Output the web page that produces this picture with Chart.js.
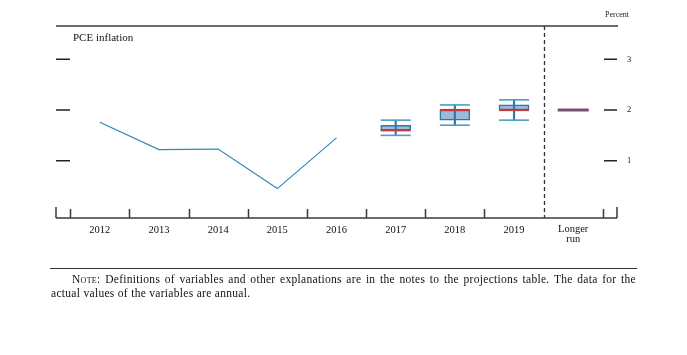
<!DOCTYPE html>
<html>
<head>
<meta charset="utf-8">
<script src="https://cdn.jsdelivr.net/npm/chart.js@4/dist/chart.umd.min.js"></script>
<style>
  html, body { margin: 0; padding: 0; background: #fff; }
  #wrap { position: relative; width: 687px; height: 355px; overflow: hidden; }
  #c { position: absolute; left: 0; top: 0; }
  .note { position: absolute; font-family: 'Liberation Serif', serif; font-size: 11.5px; letter-spacing: 0.3px; color: #111; white-space: nowrap; line-height: 14px; }
  #rule { position: absolute; left: 50px; top: 268px; width: 587px; height: 0; border-top: 1.5px solid #333; }
</style>
</head>
<body>
<div id="wrap">
  <canvas id="c" width="687" height="355"></canvas>
  <div id="rule"></div>
  <div class="note" id="n1" style="left:72px; top:272px; width:564px; text-align:justify; text-align-last:justify; white-space:normal;"><span style="font-variant:small-caps">Note</span>: Definitions of variables and other explanations are in the notes to the projections table. The data for the</div>
  <div class="note" style="left:51px; top:286px;">actual values of the variables are annual.</div>
</div>
<script>
// ---- Data ----
const categories = ['2012', '2013', '2014', '2015', '2016', '2017', '2018', '2019', 'Longer run'];
const actualYears = ['2012', '2013', '2014', '2015', '2016'];
const actualValues = [1.76, 1.22, 1.23, 0.45, 1.45];
const projYears = ['2017', '2018', '2019'];
const projMedian = [1.6, 2.0, 2.0];
const ctLow = [1.6, 1.8, 2.0];
const ctHigh = [1.7, 2.0, 2.1];
const rangeLow = [1.5, 1.7, 1.8];
const rangeHigh = [1.8, 2.1, 2.2];
const longerRunLabel = 'Longer run';
const longerRunValue = 2.0;
const yTicks = [1, 2, 3];

const idx = (c) => categories.indexOf(c);
const SERIF = "'Liberation Serif', 'Times New Roman', serif";

const decor = {
  id: 'decor',
  beforeDatasetsDraw(chart) {
    const ctx = chart.ctx, x = chart.scales.x, a = chart.chartArea;
    ctx.save();
    const xs = x.getPixelForValue(idx(longerRunLabel) - 0.5);
    ctx.strokeStyle = '#333';
    ctx.lineWidth = 1.3;
    ctx.setLineDash([4, 3]);
    ctx.beginPath(); ctx.moveTo(Math.round(xs) + 0.5, a.top); ctx.lineTo(Math.round(xs) + 0.5, a.bottom); ctx.stroke();
    ctx.restore();
  },
  afterDraw(chart) {
    const ctx = chart.ctx, x = chart.scales.x, y = chart.scales.y, a = chart.chartArea;
    ctx.save();
    ctx.strokeStyle = '#3a3a3a';
    ctx.lineWidth = 1.5;
    ctx.beginPath(); ctx.moveTo(a.left, a.top); ctx.lineTo(a.right + 1, a.top); ctx.stroke();
    ctx.beginPath(); ctx.moveTo(a.left, a.bottom); ctx.lineTo(a.right, a.bottom); ctx.stroke();
    ctx.beginPath();
    ctx.moveTo(a.left, a.bottom); ctx.lineTo(a.left, a.bottom - 11);
    ctx.moveTo(a.right, a.bottom); ctx.lineTo(a.right, a.bottom - 11);
    ctx.stroke();
    ctx.beginPath();
    for (let i = 0; i <= categories.length; i++) {
      if (i === idx(longerRunLabel)) continue;
      const px = Math.round(x.getPixelForValue(i - 0.5)) + 0.5;
      ctx.moveTo(px, a.bottom); ctx.lineTo(px, a.bottom - 9);
    }
    ctx.stroke();
    ctx.strokeStyle = '#222';
    ctx.lineWidth = 1.6;
    ctx.beginPath();
    yTicks.forEach(v => {
      const py = y.getPixelForValue(v);
      ctx.moveTo(a.left, py); ctx.lineTo(a.left + 14, py);
      ctx.moveTo(a.right - 13, py); ctx.lineTo(a.right, py);
    });
    ctx.stroke();
    ctx.fillStyle = '#222';
    ctx.font = '8.5px ' + SERIF;
    ctx.textAlign = 'center';
    ctx.textBaseline = 'middle';
    yTicks.forEach(v => ctx.fillText(String(v), a.right + 12, y.getPixelForValue(v)));
    ctx.font = '8px ' + SERIF;
    ctx.fillText('Percent', a.right, 15);
    ctx.font = '11px ' + SERIF;
    ctx.textAlign = 'left';
    ctx.fillStyle = '#111';
    ctx.fillText('PCE inflation', a.left + 17, a.top + 12);
    ctx.font = '10.5px ' + SERIF;
    ctx.textAlign = 'center';
    categories.forEach((c, i) => {
      const px = x.getPixelForValue(i);
      const parts = c.split(' ');
      if (parts.length === 1) ctx.fillText(c, px, a.bottom + 12);
      else parts.forEach((p, k) => ctx.fillText(p, px, a.bottom + 11 + k * 10));
    });
    ctx.restore();
  }
};

new Chart(document.getElementById('c'), {
  type: 'bar',
  data: {
    datasets: [
      {
        type: 'line', order: 1,
        data: actualYears.map((c, i) => ({ x: idx(c), y: actualValues[i] })),
        borderColor: '#2f88b6', borderWidth: 1.2, pointRadius: 0, tension: 0
      },
      {
        type: 'line', order: 2, showLine: false,
        data: projYears.map((c, i) => ({ x: idx(c), y: projMedian[i] })),
        pointStyle: 'line', pointRadius: 15, pointBorderWidth: 2.2, pointBorderColor: '#c9363c', pointBackgroundColor: '#c9363c'
      },
      {
        type: 'line', order: 2, showLine: false,
        data: [{ x: idx(longerRunLabel), y: longerRunValue }],
        pointStyle: 'line', pointRadius: 15.5, pointBorderWidth: 3, pointBorderColor: '#7a4d70', pointBackgroundColor: '#7a4d70'
      },
      {
        type: 'line', order: 3, showLine: false,
        data: projYears.map((c, i) => ({ x: idx(c), y: rangeHigh[i] })).concat(projYears.map((c, i) => ({ x: idx(c), y: rangeLow[i] }))),
        pointStyle: 'line', pointRadius: 15, pointBorderWidth: 1.6, pointBorderColor: '#4a9fc4', pointBackgroundColor: '#4a9fc4'
      },
      {
        type: 'bar', order: 4, grouped: false,
        data: projYears.map((c, i) => ({ x: idx(c), y: [rangeLow[i], rangeHigh[i]] })),
        barThickness: 1.5, backgroundColor: '#2d7aa8', borderWidth: 0
      },
      {
        type: 'bar', order: 5, grouped: false,
        data: projYears.map((c, i) => ({ x: idx(c), y: [ctLow[i], ctHigh[i]] })),
        barThickness: 30, backgroundColor: '#9bb9d9', borderColor: '#2a79a8', borderWidth: 1.5, borderSkipped: false
      }
    ]
  },
  options: {
    responsive: false,
    animation: false,
    devicePixelRatio: 1,
    layout: { padding: { left: 56, top: 26, right: 70, bottom: 137 } },
    plugins: { legend: { display: false }, tooltip: { enabled: false } },
    scales: {
      x: { type: 'linear', min: -0.74, max: 8.74, offset: false, display: false },
      y: { type: 'linear', min: -0.13, max: 3.657, display: false }
    }
  },
  plugins: [decor]
});
</script>
</body>
</html>
